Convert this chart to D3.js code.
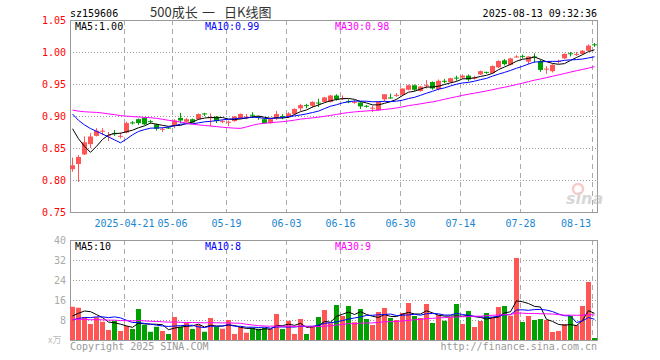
<!DOCTYPE html>
<html><head><meta charset="utf-8">
<script src="https://cdn.jsdelivr.net/npm/d3@7/dist/d3.min.js"></script>
<style>
body{margin:0;background:#fff}
svg{display:block}
text{font-family:"DejaVu Sans Mono",monospace;font-size:10px}
</style>
</head><body>
<svg id="c" width="660" height="360"></svg>
<script>
const dates = [
"2025-04-08","2025-04-09","2025-04-10","2025-04-11","2025-04-14","2025-04-15","2025-04-16","2025-04-17","2025-04-18","2025-04-21",
"2025-04-22","2025-04-23","2025-04-24","2025-04-25","2025-04-28","2025-04-29","2025-04-30","2025-05-06","2025-05-07","2025-05-08",
"2025-05-09","2025-05-12","2025-05-13","2025-05-14","2025-05-15","2025-05-16","2025-05-19","2025-05-20","2025-05-21","2025-05-22",
"2025-05-23","2025-05-26","2025-05-27","2025-05-28","2025-05-29","2025-05-30","2025-06-03","2025-06-04","2025-06-05","2025-06-06",
"2025-06-09","2025-06-10","2025-06-11","2025-06-12","2025-06-13","2025-06-16","2025-06-17","2025-06-18","2025-06-19","2025-06-20",
"2025-06-23","2025-06-24","2025-06-25","2025-06-26","2025-06-27","2025-06-30","2025-07-01","2025-07-02","2025-07-03","2025-07-04",
"2025-07-07","2025-07-08","2025-07-09","2025-07-10","2025-07-11","2025-07-14","2025-07-15","2025-07-16","2025-07-17","2025-07-18",
"2025-07-21","2025-07-22","2025-07-23","2025-07-24","2025-07-25","2025-07-28","2025-07-29","2025-07-30","2025-07-31","2025-08-01",
"2025-08-04","2025-08-05","2025-08-06","2025-08-07","2025-08-08","2025-08-11","2025-08-12","2025-08-13"];
const open = [
.817,.825,.840,.856,.869,.876,.869,.873,.868,.874, .890,.895,.897,.892,.887,.879,.882,.884,.897,.891,
.895,.895,.904,.897,.899,.891,.890,.892,.896,.898, .902,.899,.895,.889,.896,.900,.898,.903,.912,.917,
.916,.921,.922,.922,.932,.927,.923,.921,.921,.916, .912,.909,.926,.929,.932,.933,.941,.948,.939,.947,
.953,.942,.955,.953,.960,.960,.963,.959,.965,.969, .967,.976,.987,.980,.992,.994,.985,.993,.986,.973,
.970,.985,.990,.998,.996,.997,1.002,1.012];
const high = [
.835,.839,.868,.873,.881,.881,.875,.878,.874,.891, .892,.896,.898,.894,.888,.882,.883,.895,.905,.897,
.896,.904,.905,.904,.900,.894,.893,.900,.904,.903, .906,.900,.896,.896,.908,.903,.906,.912,.919,.919,
.923,.927,.930,.933,.934,.932,.926,.925,.922,.917, .916,.923,.934,.935,.936,.943,.949,.949,.947,.956,
.954,.957,.958,.960,.963,.965,.965,.963,.971,.969, .979,.987,.989,.991,.995,.996,.993,.998,.988,.978,
.981,.988,.998,1.000,1.000,1.003,1.012,1.014];
const low = [
.813,.797,.839,.850,.868,.870,.861,.869,.865,.873, .887,.886,.886,.888,.877,.875,.880,.881,.889,.890,
.889,.894,.900,.884,.889,.889,.884,.891,.895,.895, .897,.894,.888,.888,.894,.895,.897,.902,.908,.912,
.913,.914,.921,.921,.924,.925,.920,.919,.911,.913, .906,.908,.923,.927,.930,.931,.940,.939,.938,.943,
.941,.940,.951,.952,.955,.958,.954,.957,.964,.966, .966,.975,.979,.979,.991,.990,.981,.983,.969,.966,
.968,.982,.989,.993,.994,.996,1.001,1.008];
const close = [
.823,.836,.859,.868,.877,.877,.870,.872,.869,.889, .889,.889,.887,.891,.880,.880,.881,.893,.893,.895,
.890,.903,.903,.898,.892,.892,.891,.899,.903,.899, .901,.898,.889,.895,.903,.899,.904,.911,.917,.916,
.922,.920,.929,.932,.926,.928,.922,.922,.915,.915, .913,.922,.934,.928,.933,.943,.948,.941,.946,.948,
.943,.955,.954,.959,.959,.963,.957,.960,.970,.968, .978,.986,.981,.990,.993,.993,.993,.992,.972,.974,
.980,.986,.997,.997,.997,1.002,1.010,1.011];
// volume, 万
const volume = [
13.3,12.9,9.1,6.4,9.1,7.3,4.0,7.7,3.6,5.6, 4.4,12.4,6.0,3.3,5.3,3.6,2.4,9.2,5.3,6.9,
4.4,6.0,3.3,8.8,5.3,4.5,8.0,2.4,5.3,2.9, 4.9,4.5,4.9,4.4,10.4,4.4,7.7,2.4,8.4,2.4,
5.3,9.2,12.0,6.7,14.0,9.6,13.6,7.1,12.4,8.4, 6.0,11.2,12.8,8.8,8.0,10.8,14.8,9.6,8.8,14.4,
6.8,10.0,7.7,9.1,14.4,6.4,11.6,5.2,7.6,10.8, 9.1,13.2,13.6,9.7,32.8,7.2,9.6,8.0,8.4,8.0,
3.2,3.6,6.4,9.6,6.0,13.6,23.2,0.8];
// 29 sessions before the window (warm-up for moving averages, read back from the MA lines)
const preCloses = [.885,.888,.885,.890,.905,.910,.910,.912,.915,.912,.905,.908,.905,.910,.925,.928,.930,
.940,.938,.945,.935,.930,.925,.920,.920,.915,.918,.915,.830];
const preVolumes = [12.5,12.0,9.5,8.0,9.0,8.5,7.5,9.0,6.5,8.0,7.0,10.5,8.0,7.5,8.0,6.5,7.0,9.5,8.5,6.0,
6.5,5.5,7.0,6.0,7.0,7.4,4.6,7.7,15.0];
const priceTicks = [0.75,0.80,0.85,0.90,0.95,1.00,1.05];
const volTicks = [8,16,24,32,40];
const tickDates = ["2025-04-21","2025-05-06","2025-05-19","2025-06-03","2025-06-16","2025-06-30","2025-07-14","2025-07-28","2025-08-13"];
const maPeriods = [5,10,30];
const maColors = ["#000000","#0000ff","#ff00ff"];
const symbol = "sz159606";
const titleParts = ["500成长","一","日K线图"];
const stamp = "2025-08-13 09:32:36";
const volUnit = "x万";

const RED = "#ff5555", GREEN = "#00a000";
const L = 70, R = 597;
const svg = d3.select("#c");
svg.append("rect").attr("width",660).attr("height",360).attr("fill","#fff");

const x = d3.scaleBand().domain(dates).range([L, L + 6*dates.length]);
const cx = d => x(d) + 2.5;
const yP = d3.scaleLinear().domain([0.75,1.05]).range([212,20]);
const yV = d3.scaleLinear().domain([0,40]).range([340,240]);

function mavg(pre, arr, n){
  const all = pre.concat(arr);
  return arr.map((_,i)=>{ const j=i+pre.length; return d3.mean(all.slice(j-n+1,j+1)); });
}
const pMA = maPeriods.map(n=>mavg(preCloses, close, n));
const vMA = maPeriods.map(n=>mavg(preVolumes, volume, n));
const up = close.map((c,i)=>c>=open[i]);

function panel(top, bottom, yScale, ticks, labelColor, fmt){
  const g = svg.append("g");
  ticks.forEach(t=>{
    const yy = Math.round(yScale(t))+0.5;
    if (yy>top+1 && yy<bottom-1)
      g.append("line").attr("x1",L).attr("x2",R).attr("y1",yy).attr("y2",yy)
        .attr("stroke","#999").attr("stroke-dasharray","1,2");
  });
  tickDates.forEach(d=>{
    const xx = x(d)+0.5;
    g.append("line").attr("x1",xx).attr("x2",xx).attr("y1",top).attr("y2",bottom)
      .attr("stroke","#aaa").attr("stroke-dasharray","5,4");
  });
  g.append("rect").attr("x",L+0.5).attr("y",top+0.5).attr("width",R-L).attr("height",bottom-top)
    .attr("fill","none").attr("stroke","#999");
  ticks.forEach(t=>{
    g.append("text").attr("x",66).attr("y",yScale(t)+3.5).attr("text-anchor","end")
      .attr("fill",labelColor).text(fmt(t));
  });
}
panel(20,212,yP,priceTicks,"#ff0000",d=>d.toFixed(2));
panel(240,340,yV,volTicks,"#aaaaaa",d=>String(d));

const cg = svg.append("g");
dates.forEach((d,i)=>{
  const col = up[i]?RED:GREEN;
  const xc = Math.floor(cx(d))+0.5;
  cg.append("line").attr("x1",xc).attr("x2",xc).attr("y1",yP(high[i])).attr("y2",yP(low[i]))
    .attr("stroke",col);
  const y1 = yP(Math.max(open[i],close[i])), y2 = yP(Math.min(open[i],close[i]));
  cg.append("rect").attr("x",x(d)).attr("y",y1).attr("width",5).attr("height",Math.max(1,y2-y1))
    .attr("fill",col);
});
pMA.forEach((s,k)=>{
  svg.append("path").datum(s).attr("fill","none").attr("stroke",maColors[k]).attr("stroke-width",1)
    .attr("d",d3.line().x((v,i)=>cx(dates[i])).y(v=>yP(v)));
});
const vg = svg.append("g");
dates.forEach((d,i)=>{
  vg.append("rect").attr("x",x(d)).attr("y",yV(volume[i])).attr("width",5)
    .attr("height",yV(0)-yV(volume[i])).attr("fill",up[i]?RED:GREEN);
});
vMA.forEach((s,k)=>{
  svg.append("path").datum(s).attr("fill","none").attr("stroke",maColors[k]).attr("stroke-width",1)
    .attr("d",d3.line().x((v,i)=>cx(dates[i])).y(v=>yV(v)));
});

const last = dates.length-1;
const legX = [75,205,335];
maPeriods.forEach((n,k)=>{
  svg.append("text").attr("x",legX[k]).attr("y",30).attr("fill",maColors[k])
    .text("MA"+n+":"+pMA[k][last].toFixed(2));
  svg.append("text").attr("x",legX[k]).attr("y",249.5).attr("fill",maColors[k])
    .text("MA"+n+":"+Math.floor(vMA[k][last]));
});

tickDates.forEach((d,i)=>{
  const lab = i===0 ? d : d.slice(5);
  const t = svg.append("text").attr("y",227).attr("fill","#1a86d0").text(lab);
  const w = t.node().getComputedTextLength();
  let c = x(d)+0.5;
  if (c + w/2 > 591) c = 591 - w/2;
  t.attr("x",c-w/2);
});

svg.append("text").attr("x",70).attr("y",16.5).attr("fill","#000").text(symbol);
const titleX = [150,202,224];
titleParts.forEach((s,k)=>{
  svg.append("text").attr("x",titleX[k]).attr("y",17).attr("fill","#333")
    .style("font-family","'Noto Sans CJK SC','DejaVu Serif',serif").style("font-size","13px").text(s);
});
svg.append("text").attr("x",597).attr("y",16.5).attr("text-anchor","end").attr("fill","#000").text(stamp);

svg.append("text").attr("x",48).attr("y",343).attr("fill","#bbb").style("font-size","9px")
  .style("font-family","'Noto Sans CJK SC',sans-serif").text(volUnit);
svg.append("text").attr("x",70).attr("y",350).attr("fill","#999").text("Copyright 2025 SINA.COM");
svg.append("text").attr("x",597).attr("y",350).attr("text-anchor","end").attr("fill","#999").text("http://finance.sina.com.cn");

const wm = svg.append("g").attr("opacity",0.55);
wm.append("circle").attr("cx",578).attr("cy",189).attr("r",5).attr("fill","none").attr("stroke","#f3a0a0").attr("stroke-width",2.5);
wm.append("text").attr("x",566).attr("y",204).attr("fill","#b8b8b8")
  .style("font-family","'DejaVu Sans',sans-serif").style("font-size","16px").style("font-style","italic").style("font-weight","bold").text("sina");
</script>
</body></html>
